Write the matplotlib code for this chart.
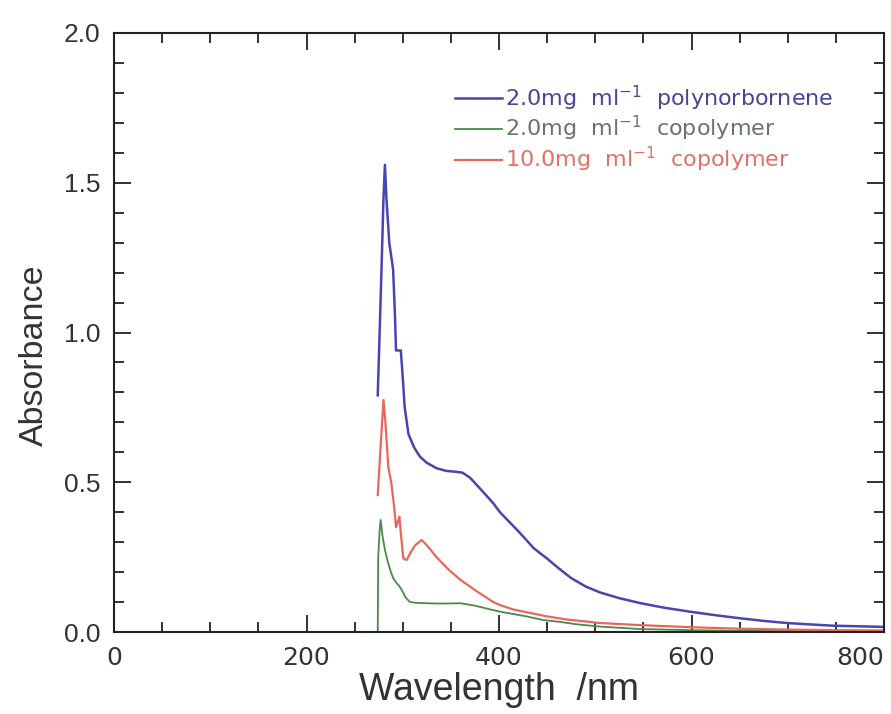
import matplotlib
matplotlib.use("Agg")
import matplotlib.pyplot as plt
from matplotlib.ticker import MultipleLocator, FixedLocator, FormatStrFormatter

plt.rcParams['font.family'] = ['Liberation Sans', 'DejaVu Sans']
plt.rcParams['mathtext.default'] = 'regular'

# Data
blue_x = [274, 276, 278, 280, 281.5, 283, 286, 290, 292, 293, 298, 300, 302, 306, 312, 318, 325, 335,
          345, 355, 362, 370, 380, 394, 401, 410, 422, 436, 450, 463, 475, 490, 505, 525, 546, 570, 598,
          625, 650, 675, 699, 725, 747, 775, 800]
blue_y = [0.79, 1.0, 1.22, 1.45, 1.56, 1.45, 1.30, 1.21, 1.05, 0.94, 0.94, 0.85, 0.75, 0.66, 0.615,
          0.585, 0.565, 0.547, 0.538, 0.535, 0.532, 0.515, 0.48, 0.43, 0.40, 0.37, 0.33, 0.28, 0.245,
          0.21, 0.18, 0.152, 0.132, 0.113, 0.097, 0.082, 0.068, 0.056, 0.046, 0.037, 0.030, 0.025,
          0.021, 0.019, 0.017]

red_x = [274, 277, 280, 282, 285, 288, 291, 293, 295, 296.5, 298, 300.6, 304, 308, 313, 319.6, 325,
         335, 347, 360, 375, 394, 401, 415, 435, 450, 470, 505, 546, 600, 650, 700, 750, 800]
red_y = [0.457, 0.62, 0.775, 0.70, 0.55, 0.50, 0.42, 0.35, 0.37, 0.385, 0.33, 0.246, 0.24, 0.265,
         0.29, 0.307, 0.29, 0.25, 0.21, 0.174, 0.14, 0.10, 0.09, 0.075, 0.062, 0.052, 0.042, 0.03,
         0.023, 0.016, 0.011, 0.008, 0.006, 0.005]

green_x = [274, 274.5, 276, 277, 279, 281.5, 284, 287, 290, 293.6, 296, 299, 303, 307.5, 315, 325,
           340, 360, 375, 394, 401, 415, 428.7, 446, 463, 480, 505, 546, 600, 650, 700, 750, 800]
green_y = [0.0, 0.25, 0.34, 0.374, 0.32, 0.274, 0.24, 0.207, 0.18, 0.163, 0.155, 0.14, 0.115, 0.10,
           0.097, 0.096, 0.095, 0.096, 0.088, 0.073, 0.068, 0.060, 0.052, 0.040, 0.034, 0.026,
           0.018, 0.010, 0.006, 0.004, 0.003, 0.002, 0.002]

x_ticks = [0, 200, 400, 600, 800]
labels = ['2.0mg  ml$^{-1}$  polynorbornene', '2.0mg  ml$^{-1}$  copolymer', '10.0mg  ml$^{-1}$  copolymer']
colors = ['#4646b0', '#4a8a4a', '#e8665a']
text_colors = ['#464696', '#6a736a', '#e07268']

fig = plt.figure(figsize=(8.91, 7.14), dpi=100)
ax = fig.add_axes([114/891, 82/714, 770/891, 599/714])

l1, = ax.plot(blue_x, blue_y, color=colors[0], lw=1.8)
l2, = ax.plot(green_x, green_y, color=colors[1], lw=1.3)
l3, = ax.plot(red_x, red_y, color=colors[2], lw=1.6)

ax.set_xlim(0, 800)
ax.set_ylim(0, 2.0)
ax.xaxis.set_major_locator(FixedLocator(x_ticks))
ax.xaxis.set_minor_locator(MultipleLocator(50))
ax.yaxis.set_major_locator(MultipleLocator(0.5))
ax.yaxis.set_minor_locator(MultipleLocator(0.1))
ax.yaxis.set_major_formatter(FormatStrFormatter('%.1f'))
ax.tick_params(which='both', direction='in', top=True, right=True, width=1.3, color='#222222')
ax.tick_params(which='major', length=12)
ax.tick_params(which='minor', length=7)
ax.tick_params(axis='y', which='major', labelsize=19, pad=10, labelcolor='#333333')
ax.tick_params(axis='x', which='major', labelsize=18, pad=10, labelcolor='#333333')
for lab in ax.get_xticklabels():
    lab.set_family(['DejaVu Sans'])
ax.get_xticklabels()[-1].set_horizontalalignment('right')
for s in ax.spines.values():
    s.set_linewidth(1.5)
    s.set_color('#222222')

ax.set_xlabel('Wavelength  /nm', fontsize=27, color='#333333')
ax.xaxis.set_label_coords(0.5, -0.066)
ax.set_ylabel('Absorbance', fontsize=24.5, color='#333333')
ax.yaxis.set_label_coords(-0.083, 0.462)

leg = ax.legend([l1, l2, l3], labels, loc='upper left', bbox_to_anchor=(0.443, 0.916), frameon=False,
                prop={'family': 'DejaVu Sans', 'size': 16}, handlelength=2.1, handletextpad=0.15,
                borderpad=0, borderaxespad=0, labelspacing=0.08)
for t, c in zip(leg.get_texts(), text_colors):
    t.set_color(c)

fig.savefig('out.png', dpi=100)
